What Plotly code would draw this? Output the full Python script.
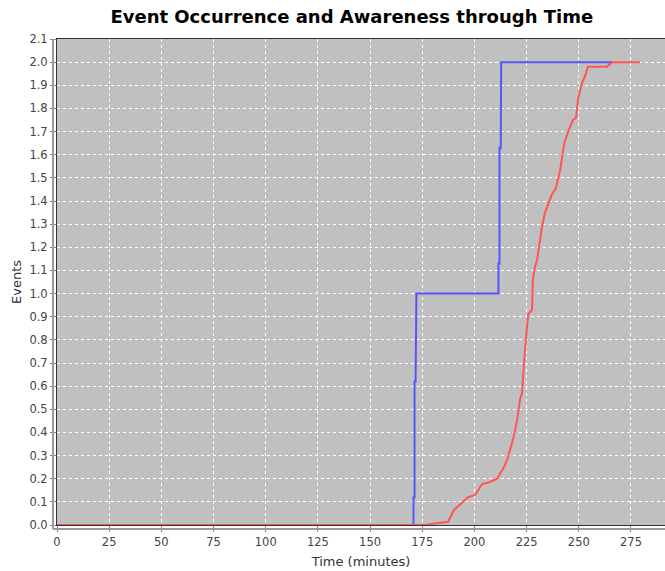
import plotly.graph_objects as go

# Event occurrence (blue)
occ_time = [0, 170.8, 170.8, 171.3, 171.3, 171.8, 172.2, 211.5, 211.5, 212.0, 212.0, 212.6, 212.8, 266.0]
occ_events = [0, 0, 0.12, 0.12, 0.62, 0.62, 1.0, 1.0, 1.13, 1.13, 1.63, 1.63, 2.0, 2.0]

# Awareness (red)
aw_time = [0, 176.3, 183.5, 187.3, 190.2, 194.0, 197.0, 200.3, 203.6, 207.5, 210.8, 214.2, 216.0,
           218.5, 220.4, 221.8, 222.8, 223.8, 225.2, 225.7, 227.6, 228.0, 229.0, 230.0, 231.4,
           232.4, 233.8, 237.2, 239.0, 241.0, 242.5, 243.4, 245.3, 247.2, 248.7, 249.6, 251.5,
           253.0, 254.4, 263.5, 266.0, 279.3]
aw_events = [0, 0.0, 0.01, 0.013, 0.065, 0.095, 0.12, 0.13, 0.177, 0.186, 0.2, 0.25, 0.29,
             0.37, 0.45, 0.54, 0.57, 0.71, 0.84, 0.91, 0.93, 1.06, 1.115, 1.145, 1.23,
             1.29, 1.35, 1.43, 1.455, 1.53, 1.62, 1.66, 1.71, 1.75, 1.76, 1.84, 1.91,
             1.94, 1.98, 1.98, 2.0, 2.0]

x_ticks = [0, 25, 50, 75, 100, 125, 150, 175, 200, 225, 250, 275]
y_ticks = [round(i * 0.1, 1) for i in range(22)]

fig = go.Figure()
fig.add_trace(go.Scatter(x=occ_time, y=occ_events, mode="lines",
                         line=dict(color="#5555ff", width=2), name="Occurrence"))
fig.add_trace(go.Scatter(x=aw_time, y=aw_events, mode="lines",
                         line=dict(color="#ff5555", width=2), name="Awareness"))

tick_font = dict(family="DejaVu Sans", size=11.5, color="#444444")
fig.update_layout(
    width=665, height=571,
    margin=dict(l=57, r=0, t=39, b=46),
    paper_bgcolor="white",
    plot_bgcolor="#c0c0c0",
    showlegend=False,
    title=dict(text="<b>Event Occurrence and Awareness through Time</b>",
               x=0.529, xanchor="center", y=0.982, yanchor="top",
               font=dict(family="DejaVu Sans", size=18, color="black")),
    xaxis=dict(range=[0, 291.3], tickvals=x_ticks, ticktext=[str(v) for v in x_ticks],
               automargin=False,
               showgrid=True, gridcolor="white", griddash="dot", gridwidth=1,
               zeroline=False, showline=True, linecolor="#333333", linewidth=1, mirror=True,
               ticks="outside", ticklen=6, tickcolor="#888888",
               tickfont=tick_font,
               title=dict(text="Time (minutes)", font=dict(family="DejaVu Sans", size=13, color="#333333"),
                          standoff=9)),
    yaxis=dict(range=[0, 2.1], tickvals=y_ticks, ticktext=[f"{v:.1f}" for v in y_ticks],
               automargin=False,
               showgrid=True, gridcolor="white", griddash="dot", gridwidth=1,
               zeroline=False, showline=True, linecolor="#333333", linewidth=1, mirror=True,
               ticks="outside", ticklen=6, tickcolor="#888888",
               tickfont=tick_font,
               title=dict(text="Events", font=dict(family="DejaVu Sans", size=13, color="#333333"),
                          standoff=4)),
)

# offset gray axis lines (JFreeChart style)
fig.add_shape(type="line", xref="paper", yref="paper", x0=-4/608, x1=-4/608, y0=-4/486, y1=1,
              line=dict(color="#999999", width=2))
fig.add_shape(type="line", xref="paper", yref="paper", x0=-4/608, x1=1, y0=-4/486, y1=-4/486,
              line=dict(color="#999999", width=2))

fig.write_html("out.html", config={"displayModeBar": False})

# remove default page margin so the figure fills the window exactly
with open("out.html", "r", encoding="utf-8") as f:
    html = f.read()
html = html.replace("<head>", "<head><style>html,body{margin:0;padding:0;overflow:hidden;}</style>", 1)
with open("out.html", "w", encoding="utf-8") as f:
    f.write(html)
